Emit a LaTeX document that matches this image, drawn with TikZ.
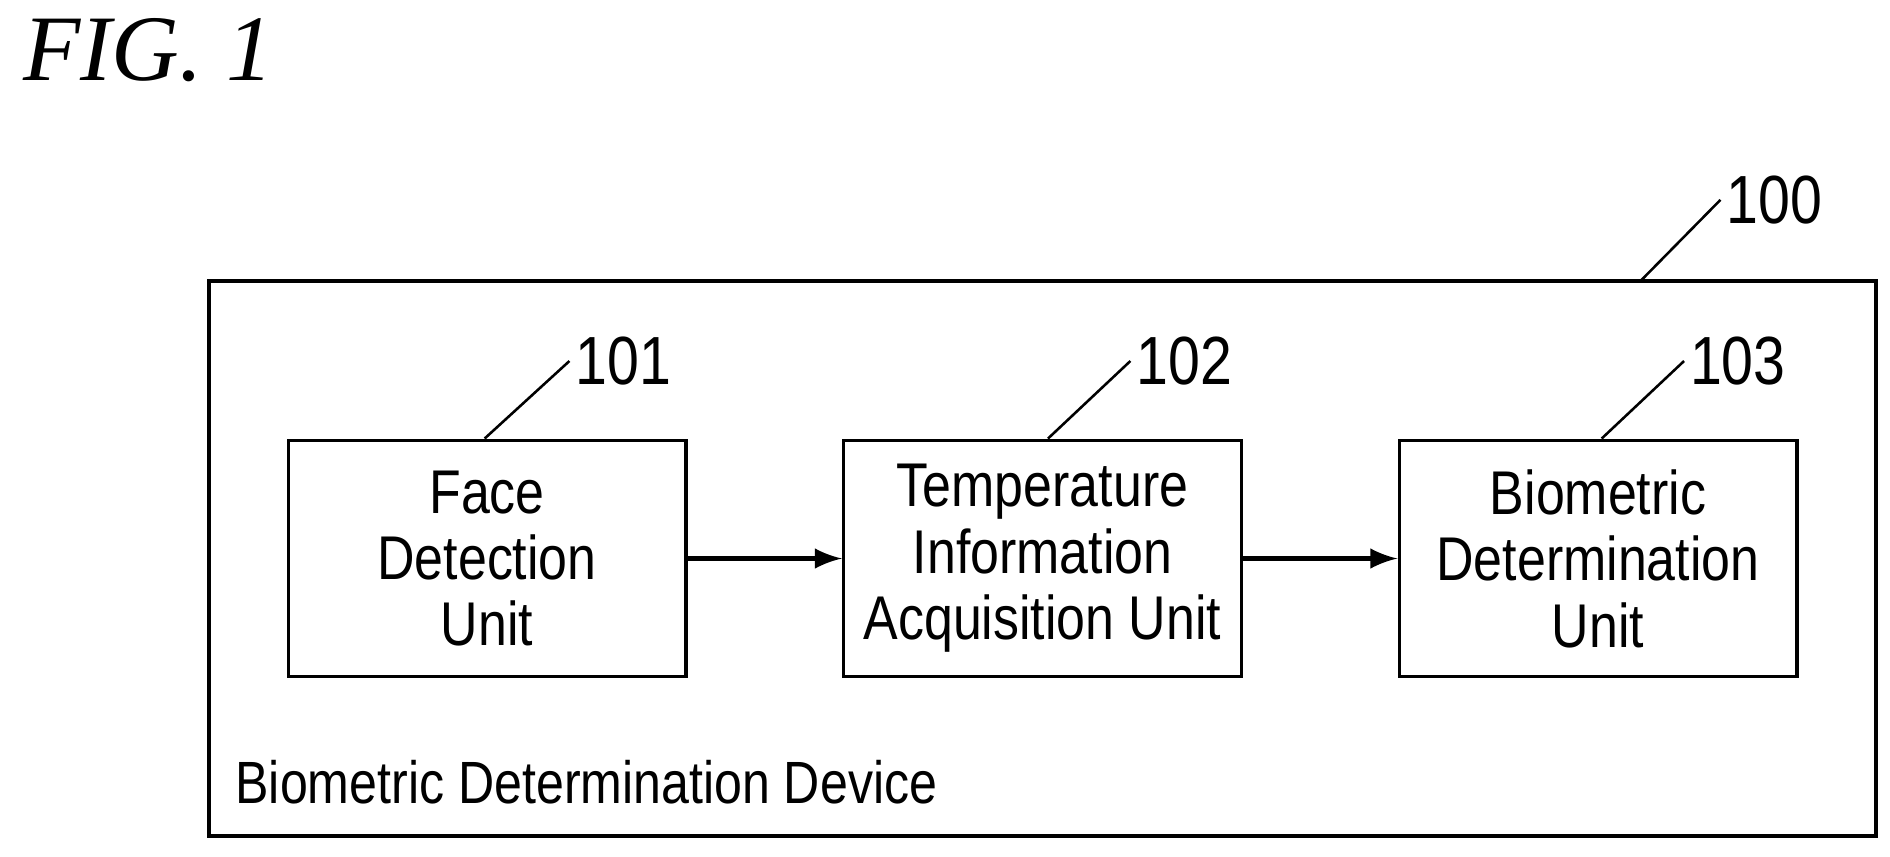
\documentclass[tikz,border=0pt]{standalone}
\usepackage{fontspec}
\setsansfont[FakeStretch=0.84]{Liberation Sans}
\newfontfamily\figfont{Liberation Serif}
\usetikzlibrary{positioning}

\begin{document}
\begin{tikzpicture}[x=0.01cm,y=-0.01cm,>=latex,thick,
    unit/.style={draw,minimum width=3.28cm,minimum height=1.95cm,align=center,
        font=\sffamily\fontsize{14.5}{15.6}\selectfont,inner sep=0pt},
    refnum/.style={font=\sffamily\fontsize{16}{18}\selectfont,anchor=west,inner sep=1pt},
    flow/.style={->,line width=1.2pt,shorten >=0pt}]

                \useasboundingbox (0,0) rectangle (1560,707);
                \node[font=\figfont\itshape\fontsize{22}{24}\selectfont,anchor=north west,inner sep=0pt] (fig) at (18,14) {FIG. 1};

                \node[draw,minimum width=13.75cm,minimum height=4.58cm,inner sep=0pt] (dev) at (860.5,461) {};
                \node[font=\sffamily\fontsize{14}{16}\selectfont,anchor=south west,inner sep=0pt] (devname) at (193,665) {Biometric Determination Device};

                \node[unit] (face) at (402,461) {Face\\Detection\\Unit};
                \node[unit] (temp) at (860.5,461) {Temperature\\Information\\Acquisition Unit};
                \node[unit] (bio) at (1319,461) {Biometric\\Determination\\Unit};

                \draw[flow] (face) -- (temp);
                \draw[flow] (temp) -- (bio);

                % reference numerals
                \node[refnum] (n100) at (1420,165) {100};
                \node[refnum] (n101) at (470,298) {101};
                \node[refnum] (n102) at (933,298) {102};
                \node[refnum] (n103) at (1390,298) {103};
                \draw[semithick] (1355,231) -- (n100.west);
                \draw[semithick] (400,362) -- (n101.west);
                \draw[semithick] (865,362) -- (n102.west);
                \draw[semithick] (1322,362) -- (n103.west);

            \end{tikzpicture}
\end{document}
